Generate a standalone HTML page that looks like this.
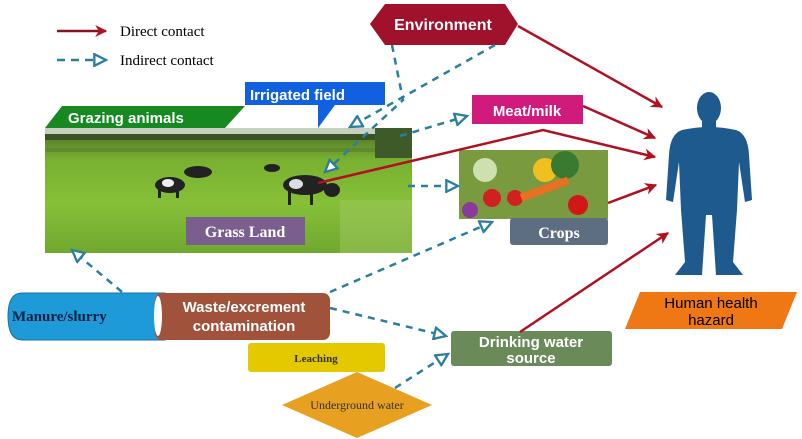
<!DOCTYPE html>
<html><head><style>
body{margin:0;background:#fff;width:802px;height:439px;overflow:hidden}
svg{display:block}
.s{font-family:"Liberation Sans",sans-serif;font-weight:bold;fill:#fff}
.r{font-family:"Liberation Serif",serif}
</style></head><body>
<svg width="802" height="439" viewBox="0 0 802 439">
<defs>
<marker id="rh" viewBox="0 0 10 10" refX="9" refY="5" markerWidth="14" markerHeight="12" orient="auto" markerUnits="userSpaceOnUse"><path d="M0,0 L10,5 L0,10 L3,5 z" fill="#b01020"/></marker>
<marker id="bh" viewBox="0 0 12 12" refX="11" refY="6" markerWidth="16" markerHeight="14" orient="auto" markerUnits="userSpaceOnUse"><path d="M1,1 L11,6 L1,11 z" fill="#fff" stroke="#2a7fa0" stroke-width="2"/></marker>
<linearGradient id="g" x1="0" y1="0" x2="0" y2="1"><stop offset="0" stop-color="#4a6a28"/><stop offset="0.25" stop-color="#78b030"/><stop offset="0.6" stop-color="#86c038"/><stop offset="1" stop-color="#70a830"/></linearGradient>
</defs>
<!-- legend -->
<line x1="57" y1="31" x2="106" y2="31" stroke="#8b1020" stroke-width="2.5" marker-end="url(#rh)"/>
<text x="120" y="36" class="r" font-size="15">Direct contact</text>
<line x1="57" y1="60" x2="106" y2="60" stroke="#2a7fa0" stroke-width="2.5" stroke-dasharray="8,6" marker-end="url(#bh)"/>
<text x="120" y="65" class="r" font-size="15">Indirect contact</text>
<!-- grass photo -->
<rect x="45" y="128" width="367" height="125" fill="url(#g)"/>
<rect x="45" y="128" width="367" height="6" fill="#c8d0c0"/>
<rect x="45" y="134" width="367" height="6" fill="#3a5224"/>
<rect x="45" y="148" width="367" height="4" fill="#5a7e30" opacity="0.6"/>
<rect x="375" y="128" width="37" height="30" fill="#3d5a28"/>
<rect x="340" y="200" width="72" height="53" fill="#9ec860" opacity="0.5"/>
<g fill="#222">
<ellipse cx="170" cy="185" rx="15" ry="8"/><rect x="158" y="188" width="3" height="10"/><rect x="176" y="188" width="3" height="10"/>
<ellipse cx="198" cy="172" rx="14" ry="6"/>
<ellipse cx="272" cy="168" rx="8" ry="4"/>
<ellipse cx="305" cy="185" rx="22" ry="10"/><ellipse cx="332" cy="190" rx="8" ry="7"/><rect x="288" y="190" width="3" height="15"/><rect x="310" y="190" width="3" height="15"/>
</g>
<ellipse cx="168" cy="183" rx="6" ry="4" fill="#eee"/><ellipse cx="296" cy="184" rx="7" ry="5" fill="#ddd"/>
<rect x="186" y="217" width="119" height="28" fill="#7a5f8e"/>
<text x="245" y="237" class="r" font-size="16" font-weight="bold" fill="#fff" text-anchor="middle">Grass Land</text>
<!-- grazing -->
<polygon points="62,106 245,106 225,128 45,128" fill="#168a20"/>
<text x="68" y="123" class="s" font-size="15" font-weight="normal">Grazing animals</text>
<!-- irrigated -->
<polygon points="245,82 385,82 385,105 335,105 318,128 318,105 245,105" fill="#1060e0"/>
<text x="250" y="100" class="s" font-size="15">Irrigated field</text>
<!-- environment -->
<polygon points="370,24 385,4 505,4 518,24 505,45 385,45" fill="#a0122c"/>
<text x="443" y="30" class="s" font-size="16" text-anchor="middle">Environment</text>
<!-- meat -->
<rect x="472" y="95" width="111" height="29" fill="#d01a7c"/>
<text x="527" y="116" class="s" font-size="15" text-anchor="middle">Meat/milk</text>
<!-- crops -->
<rect x="459" y="150" width="149" height="69" fill="#7a9a40"/>
<circle cx="485" cy="170" r="12" fill="#cfe0b0"/><circle cx="545" cy="170" r="12" fill="#f0c020"/><circle cx="565" cy="165" r="14" fill="#3a7a30"/>
<circle cx="492" cy="198" r="9" fill="#d02020"/><circle cx="515" cy="198" r="8" fill="#d02020"/><rect x="520" y="185" width="50" height="8" fill="#e87020" transform="rotate(-20 545 190)"/>
<circle cx="578" cy="205" r="10" fill="#d01818"/><circle cx="470" cy="210" r="8" fill="#8a3a9a"/>
<rect x="510" y="218" width="98" height="27" rx="3" fill="#5e6e82"/>
<text x="559" y="238" class="r" font-size="16" font-weight="bold" fill="#fff" text-anchor="middle">Crops</text>
<!-- human -->
<g fill="#1e5a8e">
<ellipse cx="709" cy="108" rx="12" ry="16"/>
<rect x="702" y="120" width="14" height="10"/>
<path d="M682,130 Q709,124 736,130 Q748,134 749,155 L752,200 L745,202 L739,162 L737,210 L733,262 L743,275 L716,275 L712,215 L706,215 L702,275 L675,275 L685,262 L681,210 L679,162 L673,202 L666,200 L669,155 Q670,134 682,130 z"/>
</g>
<!-- hazard -->
<polygon points="640,292 797,292 782,329 625,329" fill="#f07814"/>
<text x="711" y="308" font-family="Liberation Sans,sans-serif" font-size="15" text-anchor="middle">Human health</text>
<text x="711" y="325" font-family="Liberation Sans,sans-serif" font-size="15" text-anchor="middle">hazard</text>
<!-- manure cylinder -->
<path d="M22,293 L165,293 L165,340 L22,340 Q8,340 8,316 Q8,293 22,293 z" fill="#1e9ad8" stroke="#1670a8"/>
<text x="12" y="321" class="r" font-size="15" font-weight="bold" fill="#102040">Manure/slurry</text>
<rect x="155" y="293" width="175" height="47" rx="7" fill="#a0523a"/>
<ellipse cx="158" cy="316" rx="4" ry="20" fill="#fff"/>
<text x="244" y="312" class="s" font-size="15" text-anchor="middle" font-weight="normal">Waste/excrement</text>
<text x="244" y="331" class="s" font-size="15" text-anchor="middle" font-weight="normal">contamination</text>
<rect x="248" y="343" width="137" height="29" rx="3" fill="#e4c800"/>
<text x="316" y="362" class="r" font-size="11" font-weight="bold" text-anchor="middle" fill="#333">Leaching</text>
<polygon points="357,372 432,405 357,438 282,405" fill="#e8a020"/>
<text x="357" y="409" class="r" font-size="12" text-anchor="middle" fill="#333">Underground water</text>
<rect x="451" y="331" width="161" height="35" rx="3" fill="#6b8a5a"/>
<text x="531" y="347" class="s" font-size="15" text-anchor="middle" font-weight="normal">Drinking water</text>
<text x="531" y="363" class="s" font-size="15" text-anchor="middle" font-weight="normal">source</text>
<!-- red arrows -->
<g stroke="#b01020" stroke-width="2.5" fill="none">
<line x1="518" y1="26" x2="662" y2="107" marker-end="url(#rh)"/>
<line x1="583" y1="106" x2="655" y2="138" marker-end="url(#rh)"/>
<polyline points="318,183 543,130 655,157" marker-end="url(#rh)"/>
<line x1="608" y1="203" x2="656" y2="185" marker-end="url(#rh)"/>
<line x1="520" y1="332" x2="668" y2="233" marker-end="url(#rh)"/>
</g>
<!-- blue dashed -->
<g stroke="#2a7fa0" stroke-width="2.5" fill="none" stroke-dasharray="7,6">
<polyline points="392,45 403,100 325,172" marker-end="url(#bh)"/>
<line x1="495" y1="45" x2="350" y2="127" marker-end="url(#bh)"/>
<line x1="400" y1="136" x2="467" y2="116" marker-end="url(#bh)"/>
<line x1="408" y1="186" x2="458" y2="186" marker-end="url(#bh)"/>
<line x1="330" y1="292" x2="492" y2="222" marker-end="url(#bh)"/>
<line x1="330" y1="308" x2="446" y2="336" marker-end="url(#bh)"/>
<line x1="395" y1="388" x2="448" y2="354" marker-end="url(#bh)"/>
<line x1="122" y1="292" x2="72" y2="250" marker-end="url(#bh)"/>
</g>
</svg>
</body></html>
